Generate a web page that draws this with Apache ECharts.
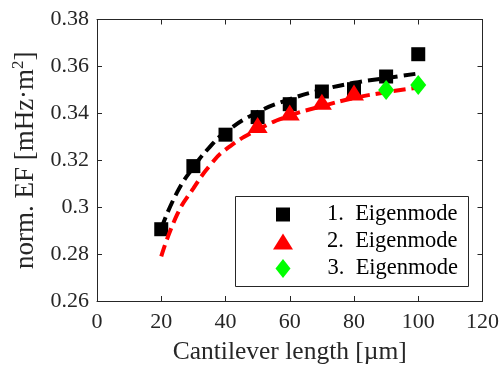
<!DOCTYPE html>
<html>
<head>
<meta charset="utf-8">
<script src="https://cdn.jsdelivr.net/npm/echarts@6/dist/echarts.min.js"></script>
<style>html,body{margin:0;padding:0;background:#fff}#c{width:502px;height:370px}</style>
</head>
<body>
<div id="c"></div>
<script>
// Data
const xTicks = [0, 20, 40, 60, 80, 100, 120];
const yTicks = [0.26, 0.28, 0.3, 0.32, 0.34, 0.36, 0.38];
const mode1X = [20, 30, 40, 50, 60, 70, 80, 90, 100];
const mode1Y = [0.2906, 0.3175, 0.3309, 0.3384, 0.3439, 0.3493, 0.3503, 0.3557, 0.3652];
const mode2X = [50, 60, 70, 80];
const mode2Y = [0.3350, 0.3404, 0.3449, 0.3489];
const mode3X = [90, 100];
const mode3Y = [0.3500, 0.3521];
const fit1X = [20, 25, 30, 35, 40, 50, 60, 70, 80, 90, 100];
const fit1Y = [0.291, 0.3065, 0.317, 0.3255, 0.332, 0.3405, 0.346, 0.350, 0.353, 0.355, 0.357];
const fit2X = [20, 25, 30, 35, 40, 50, 60, 70, 80, 90, 100];
const fit2Y = [0.279, 0.297, 0.308, 0.3175, 0.3245, 0.333, 0.339, 0.343, 0.3465, 0.349, 0.351];
const names = ['1.  Eigenmode', '2.  Eigenmode', '3.  Eigenmode'];

const zip = (xs, ys) => xs.map((x, i) => [x, ys[i]]);
const font = "'Liberation Serif', 'DejaVu Serif', serif";
const axisColor = '#262626';

const chart = echarts.init(document.getElementById('c'), null, {renderer: 'canvas'});
const baseX = {
  type: 'value', min: xTicks[0], max: xTicks[xTicks.length - 1], interval: 20,
  axisLine: {show: true, onZero: false, lineStyle: {color: axisColor, width: 1}},
  axisTick: {show: true, inside: true, length: 5, lineStyle: {color: axisColor}},
  splitLine: {show: false}
};
const baseY = {
  type: 'value', min: yTicks[0], max: yTicks[yTicks.length - 1], interval: 0.02,
  axisLine: {show: true, onZero: false, lineStyle: {color: axisColor, width: 1}},
  axisTick: {show: true, inside: true, length: 5, lineStyle: {color: axisColor}},
  splitLine: {show: false}
};
const legendSpec = [
  {icon: 'rect', w: 14, h: 14, cy: 214, pad: 32},
  {icon: 'triangle', w: 20, h: 16, cy: 241, pad: 29},
  {icon: 'diamond', w: 15, h: 19, cy: 268, pad: 32}
];
const legends = legendSpec.map((s, i) => ({
  data: [{name: names[i], icon: s.icon}],
  orient: 'vertical', left: 283 - s.w / 2, top: s.cy - 11, padding: 0,
  itemWidth: s.w, itemHeight: s.h,
  textStyle: {fontFamily: font, fontSize: 22.5, lineHeight: 22, color: '#000', padding: [0, 0, 0, s.pad]},
  selectedMode: false
}));
const option = {
  animation: false,
  backgroundColor: '#fff',
  grid: {left: 97, right: 18, top: 19.5, bottom: 68, containLabel: false},
  xAxis: [
    Object.assign({}, baseX, {
      position: 'bottom',
      axisLabel: {show: true, margin: 10, color: '#262626', fontFamily: font, fontSize: 22},
      name: 'Cantilever length [µm]', nameLocation: 'middle', nameGap: 38,
      nameTextStyle: {color: '#262626', fontFamily: font, fontSize: 25.5}
    }),
    Object.assign({}, baseX, {position: 'top', axisLabel: {show: false}})
  ],
  yAxis: [
    Object.assign({}, baseY, {
      position: 'left',
      axisLabel: {show: true, margin: 8, color: '#262626', fontFamily: font, fontSize: 22,
        formatter: v => String(Math.round(v * 100) / 100)},
      name: 'norm. EF [mHz·m{sup|2}]', nameLocation: 'middle', nameGap: 50, nameRotate: 90,
      nameTextStyle: {color: '#262626', fontFamily: font, fontSize: 27,
        rich: {sup: {fontFamily: font, fontSize: 17, color: '#262626', padding: [0, 0, 15, 0]}}}
    }),
    Object.assign({}, baseY, {position: 'right', axisLabel: {show: false}})
  ],
  legend: legends,
  graphic: [{
    type: 'rect', shape: {x: 235.5, y: 196.5, width: 233, height: 90},
    style: {fill: 'rgba(0,0,0,0)', stroke: axisColor, lineWidth: 1}, z: 100, silent: true
  }],
  series: [
    {name: names[0], type: 'scatter', data: zip(mode1X, mode1Y), symbol: 'rect', symbolSize: 14,
      itemStyle: {color: '#000', opacity: 1}, z: 2},
    {name: 'fit1', type: 'line', data: zip(fit1X, fit1Y), smooth: true, showSymbol: false, symbol: 'none',
      lineStyle: {color: '#000', width: 4, type: [12, 6]}, z: 3},
    {name: names[1], type: 'scatter', data: zip(mode2X, mode2Y), symbol: 'triangle', symbolSize: [20, 16],
      itemStyle: {color: '#ff0000', opacity: 1}, z: 4},
    {name: 'fit2', type: 'line', data: zip(fit2X, fit2Y), smooth: true, showSymbol: false, symbol: 'none',
      lineStyle: {color: '#ff0000', width: 4, type: [12, 6]}, z: 5},
    {name: names[2], type: 'scatter', data: zip(mode3X, mode3Y), symbol: 'diamond', symbolSize: [16, 20],
      itemStyle: {color: '#00ff00', opacity: 1}, z: 6}
  ]
};
chart.setOption(option);
</script>
</body>
</html>
